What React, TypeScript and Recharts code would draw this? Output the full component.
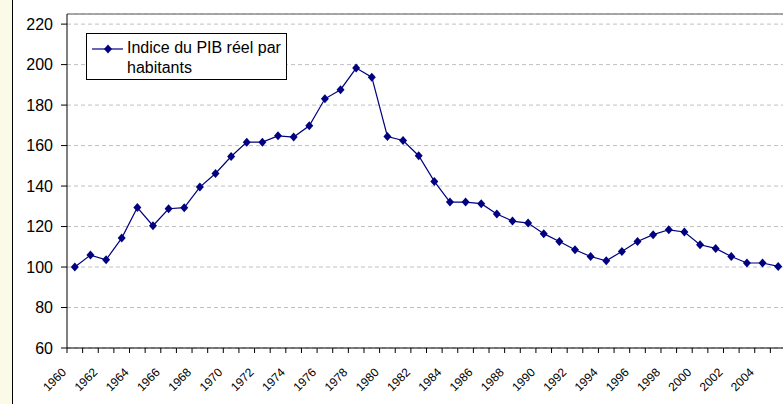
import { CartesianGrid, Legend, Line, LineChart, ReferenceLine, XAxis, YAxis } from 'recharts';

const years = [
  1960, 1961, 1962, 1963, 1964, 1965, 1966, 1967, 1968, 1969,
  1970, 1971, 1972, 1973, 1974, 1975, 1976, 1977, 1978, 1979,
  1980, 1981, 1982, 1983, 1984, 1985, 1986, 1987, 1988, 1989,
  1990, 1991, 1992, 1993, 1994, 1995, 1996, 1997, 1998, 1999,
  2000, 2001, 2002, 2003, 2004, 2005
];

const gdpIndex = [
  100, 105.9, 103.6, 114.3, 129.4, 120.4, 128.8, 129.3, 139.5, 146.2,
  154.6, 161.7, 161.7, 164.8, 164.2, 169.8, 183.1, 187.6, 198.3, 193.8,
  164.5, 162.5, 155, 142.3, 132.1, 132.1, 131.3, 126.2, 122.7, 121.7,
  116.5, 112.6, 108.5, 105.2, 103.1, 107.7, 112.6, 116, 118.4, 117.3,
  111, 109.2, 105.2, 102, 102, 100.3
];

const xTickLabels = [
  1960, 1962, 1964, 1966, 1968, 1970, 1972, 1974, 1976, 1978, 1980, 1982,
  1984, 1986, 1988, 1990, 1992, 1994, 1996, 1998, 2000, 2002, 2004
];

const yTicks = [60, 80, 100, 120, 140, 160, 180, 200, 220];

const seriesName = 'Indice du PIB réel par habitants';

const data = years.map((year, i) => ({ year, value: gdpIndex[i] }));
// Excel-style category axis: tick marks between the years
const categoryBounds = [...years.map((y) => y - 0.5), years[years.length - 1] + 0.5];

const NAVY = '#000080';
const FONT = 'Arial, "Liberation Sans", sans-serif';

function Diamond(props: any) {
  const { cx, cy } = props;
  if (cx == null || cy == null) return null;
  return (
    <polygon
      points={`${cx},${cy - 4.5} ${cx + 4},${cy} ${cx},${cy + 4.5} ${cx - 4},${cy}`}
      fill={NAVY}
    />
  );
}

// label for a year hangs from the tick mark on its left
function YearTick({ x, y, payload }: any) {
  const year = payload.value + 0.5;
  if (!xTickLabels.includes(year)) return <g />;
  return (
    <g transform={`translate(${x},${y + 20})`}>
      <text x={0} y={0} transform="rotate(-45)" textAnchor="end" fontSize={12} fontFamily={FONT} fill="#000">
        {year}
      </text>
    </g>
  );
}

function LegendBox({ payload }: any) {
  const item = payload && payload[0];
  return (
    <div
      style={{
        position: 'relative',
        width: 199,
        height: 45,
        border: '1px solid #000',
        background: '#fff',
        fontFamily: FONT,
        fontSize: 16,
        lineHeight: '20px',
        color: '#000'
      }}
    >
      <svg width={32} height={10} style={{ position: 'absolute', left: 5, top: 10 }}>
        <line x1={0} y1={5} x2={31} y2={5} stroke={NAVY} strokeWidth={1.2} />
        <polygon points="16,0.5 20,5 16,9.5 12,5" fill={NAVY} />
      </svg>
      <div style={{ position: 'absolute', left: 40, top: 3.8, width: 158 }}>
        {item ? item.value : seriesName}
      </div>
    </div>
  );
}

export default function App() {
  return (
    <div style={{ position: 'absolute', left: 0, top: 0, width: 783, height: 404, overflow: 'hidden', background: '#fff' }}>
      <div style={{ position: 'absolute', left: 0, top: 0, width: 12, height: 404, background: '#fafae6' }} />
      <div style={{ position: 'absolute', left: 12, top: 0, width: 1, height: 404, background: '#000' }} />
      <LineChart width={786} height={404} data={data} margin={{ top: 14, right: 0, bottom: 0, left: 0 }}>
        <CartesianGrid vertical={false} stroke="#c0c0c0" strokeDasharray="4 3" />
        <XAxis
          dataKey="year"
          type="number"
          domain={[1959.5, 2005.5]}
          allowDataOverflow
          ticks={categoryBounds}
          interval={0}
          height={56}
          tickSize={5}
          tickMargin={0}
          tickLine={{ stroke: '#000' }}
          axisLine={{ stroke: '#000' }}
          tick={(props: any) => <YearTick {...props} />}
        />
        <YAxis
          domain={[60, 225]}
          allowDataOverflow
          ticks={yTicks}
          interval={0}
          width={67}
          tickSize={6}
          tickMargin={8}
          tick={{ fontSize: 16, fontFamily: FONT, fill: '#000' }}
          tickLine={{ stroke: '#000' }}
          axisLine={{ stroke: '#000' }}
        />
        <ReferenceLine y={225} stroke="#8c8c8c" strokeWidth={1.5} />
        <Legend
          layout="horizontal"
          verticalAlign="middle"
          align="center"
          wrapperStyle={{ left: 86, top: 33, width: 201, height: 47 }}
          content={<LegendBox />}
        />
        <Line
          type="linear"
          dataKey="value"
          name={seriesName}
          stroke={NAVY}
          strokeWidth={1.2}
          dot={<Diamond />}
          activeDot={false}
          isAnimationActive={false}
        />
      </LineChart>
    </div>
  );
}
